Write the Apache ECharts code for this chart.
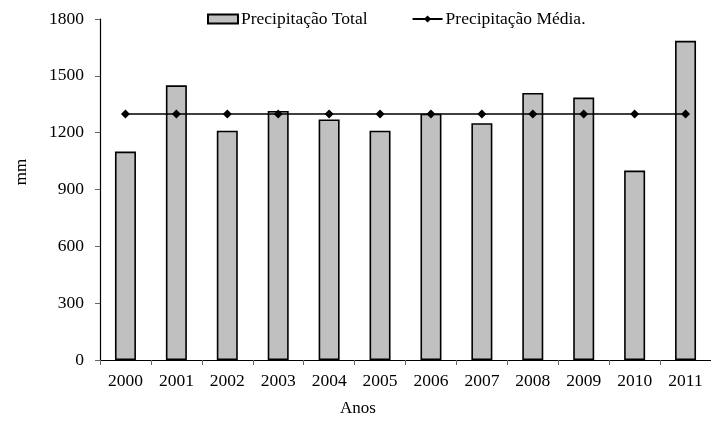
<!DOCTYPE html>
<html><head><meta charset="utf-8">
<script src="https://cdn.jsdelivr.net/npm/echarts@6/dist/echarts.min.js"></script>
<style>html,body{margin:0;padding:0;background:#fff}#c{width:711px;height:428px}</style>
</head><body><div id="c"></div>
<script>
const categories = ['2000','2001','2002','2003','2004','2005','2006','2007','2008','2009','2010','2011'];
const totalValues = [1100,1450,1210,1315,1270,1210,1300,1250,1410,1385,1000,1685];
const meanValues = [1299,1299,1299,1299,1299,1299,1299,1299,1299,1299,1299,1299];
const yTicks = [0,300,600,900,1200,1500,1800];
const xTitle = 'Anos';
const yTitle = 'mm';
const font = 'Liberation Serif';
const chart = echarts.init(document.getElementById('c'), null, {renderer:'canvas'});
chart.setOption({
  animation:false,
  backgroundColor:'#fff',
  textStyle:{fontFamily:font,color:'#000'},
  legend:{
    top:5, left:202,
    itemWidth:30, itemHeight:9, itemGap:44,
    textStyle:{fontFamily:font,fontSize:17.5,color:'#000',padding:[0,0,0,-2]},
    data:[{name:'Precipitação Total',icon:'rect'},{name:'Precipitação Média.'}]
  },
  grid:{left:100,right:0,top:19,bottom:68,containLabel:false},
  graphic:[
    {type:'text',x:358,y:409,style:{text:xTitle,fontFamily:font,fontSize:17,fill:'#000',align:'center',verticalAlign:'middle'}},
    {type:'text',x:22,y:172,rotation:Math.PI/2,style:{text:yTitle,fontFamily:font,fontSize:17,fill:'#000',align:'center',verticalAlign:'middle'}}
  ],
  xAxis:{
    type:'category', data:categories,
    axisLine:{lineStyle:{color:'#000',width:1.2}},
    axisTick:{show:true,alignWithLabel:false,length:5,lineStyle:{color:'#666'}},
    axisLabel:{fontFamily:font,fontSize:17.5,color:'#000',margin:12,interval:0}
  },
  yAxis:{
    type:'value', min:0, max:1800, interval:300,
    axisLine:{show:true,lineStyle:{color:'#000',width:1.2}},
    axisTick:{show:true,length:5,lineStyle:{color:'#666'}},
    splitLine:{show:false},
    axisLabel:{fontFamily:font,fontSize:17.5,color:'#000',margin:16,
      formatter:function(v){return yTicks.indexOf(v)>=0?String(v):'';}}
  },
  series:[
    {name:'Precipitação Total',type:'bar',data:totalValues,barWidth:21,
     itemStyle:{color:'#c0c0c0',borderColor:'#000',borderWidth:1.6}},
    {name:'Precipitação Média.',type:'line',data:meanValues,
     symbol:'diamond',symbolSize:9,
     lineStyle:{color:'#000',width:1.5},
     itemStyle:{color:'#000'}}
  ]
});
</script></body></html>
